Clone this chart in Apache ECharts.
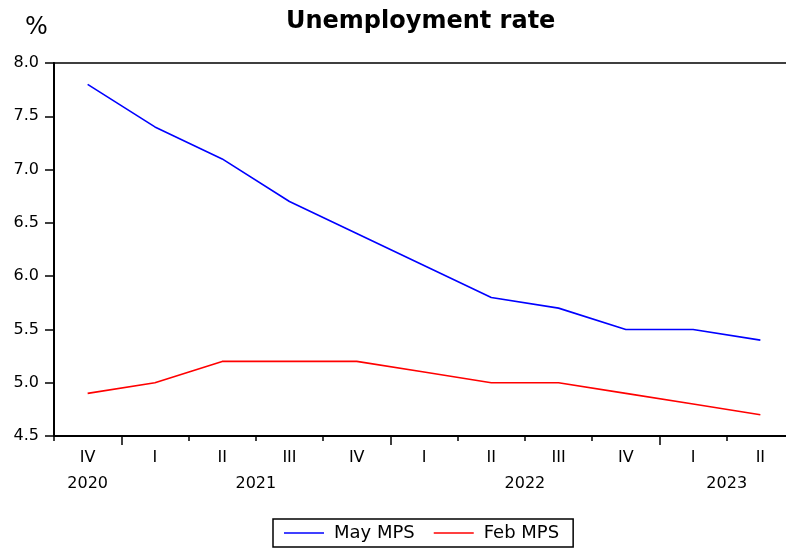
<!DOCTYPE html>
<html>
<head>
<meta charset="utf-8">
<script src="https://cdn.jsdelivr.net/npm/echarts@6/dist/echarts.min.js"></script>
<style>
html,body{margin:0;padding:0;background:#fff;overflow:hidden;}
#chart{width:786px;height:550px;}
</style>
</head>
<body>
<div id="chart"></div>
<script>
const quarters = ['IV','I','II','III','IV','I','II','III','IV','I','II'];
const quarterYears = [2020,2021,2021,2021,2021,2022,2022,2022,2022,2023,2023];
const mayMPS = [7.8, 7.4, 7.1, 6.7, 6.4, 6.1, 5.8, 5.7, 5.5, 5.5, 5.4];
const febMPS = [4.9, 5.0, 5.2, 5.2, 5.2, 5.1, 5.0, 5.0, 4.9, 4.8, 4.7];
const yTicks = [4.5, 5.0, 5.5, 6.0, 6.5, 7.0, 7.5, 8.0];

// Half-slot axis for year labels (centred under each year's quarters) and long year-boundary ticks
const n = quarters.length;
const halfSlots = new Array(2 * n + 1).fill('');
const longTickIdx = new Set();
const years = [...new Set(quarterYears)];
years.forEach(y => {
  const first = quarterYears.indexOf(y);
  const last = quarterYears.lastIndexOf(y);
  halfSlots[first + last + 1] = String(y);
  if (first > 0) longTickIdx.add(2 * first);
});

const FONT = 'DejaVu Sans';
const chart = echarts.init(document.getElementById('chart'), null, {renderer: 'canvas'});
chart.setOption({
  backgroundColor: '#fff',
  animation: false,
  title: {
    text: 'Unemployment rate',
    left: 281, top: 5,
    textStyle: {fontFamily: FONT, fontSize: 24, fontWeight: 'bold', color: '#000'}
  },
  graphic: [{
    type: 'text', left: 25, top: 16,
    style: {text: '%', font: '24px "DejaVu Sans"', fill: '#000'}
  }],
  legend: {
    data: [{name: 'May MPS', icon: 'rect'}, {name: 'Feb MPS', icon: 'rect'}],
    left: 273, top: 519,
    orient: 'horizontal',
    padding: [5, 14, 5, 11],
    itemWidth: 40, itemHeight: 1.5, itemGap: 19,
    borderColor: '#000', borderWidth: 1.5, borderRadius: 0,
    textStyle: {fontFamily: FONT, fontSize: 18, color: '#000', padding: [0, 0, 0, 5]}
  },
  grid: {
    left: 54, width: 740, top: 63, height: 373,
    outerBoundsMode: 'none',
    containLabel: false,
    show: true, borderColor: '#000', borderWidth: 1.5, backgroundColor: '#fff'
  },
  xAxis: [{
    type: 'category',
    data: quarters,
    boundaryGap: true,
    position: 'bottom',
    axisLine: {show: true, lineStyle: {color: '#000', width: 2}},
    axisTick: {show: true, length: 5, interval: 0, lineStyle: {color: '#000', width: 1.5}},
    axisLabel: {interval: 0, margin: 14, fontFamily: FONT, fontSize: 16, color: '#000'},
    splitLine: {show: false}
  }, {
    type: 'category',
    data: halfSlots,
    boundaryGap: false,
    position: 'bottom',
    axisLine: {show: false},
    axisTick: {show: true, length: 9, interval: (i) => longTickIdx.has(i), lineStyle: {color: '#000', width: 1.5}},
    axisLabel: {interval: 0, margin: 40, fontFamily: FONT, fontSize: 16, color: '#000'},
    splitLine: {show: false}
  }],
  yAxis: {
    type: 'value',
    min: yTicks[0], max: yTicks[yTicks.length - 1], interval: 0.5,
    axisLine: {show: true, lineStyle: {color: '#000', width: 2}},
    axisTick: {show: true, length: 9, lineStyle: {color: '#000', width: 1.5}},
    axisLabel: {margin: 15, fontFamily: FONT, fontSize: 16, color: '#000', formatter: v => v.toFixed(1)},
    splitLine: {show: false}
  },
  series: [{
    name: 'May MPS', type: 'line', data: mayMPS, xAxisIndex: 0,
    symbol: 'none', lineStyle: {color: '#0000FF', width: 1.6}, itemStyle: {color: '#0000FF'}
  }, {
    name: 'Feb MPS', type: 'line', data: febMPS, xAxisIndex: 0,
    symbol: 'none', lineStyle: {color: '#FF0000', width: 1.6}, itemStyle: {color: '#FF0000'}
  }]
});
</script>
</body>
</html>
